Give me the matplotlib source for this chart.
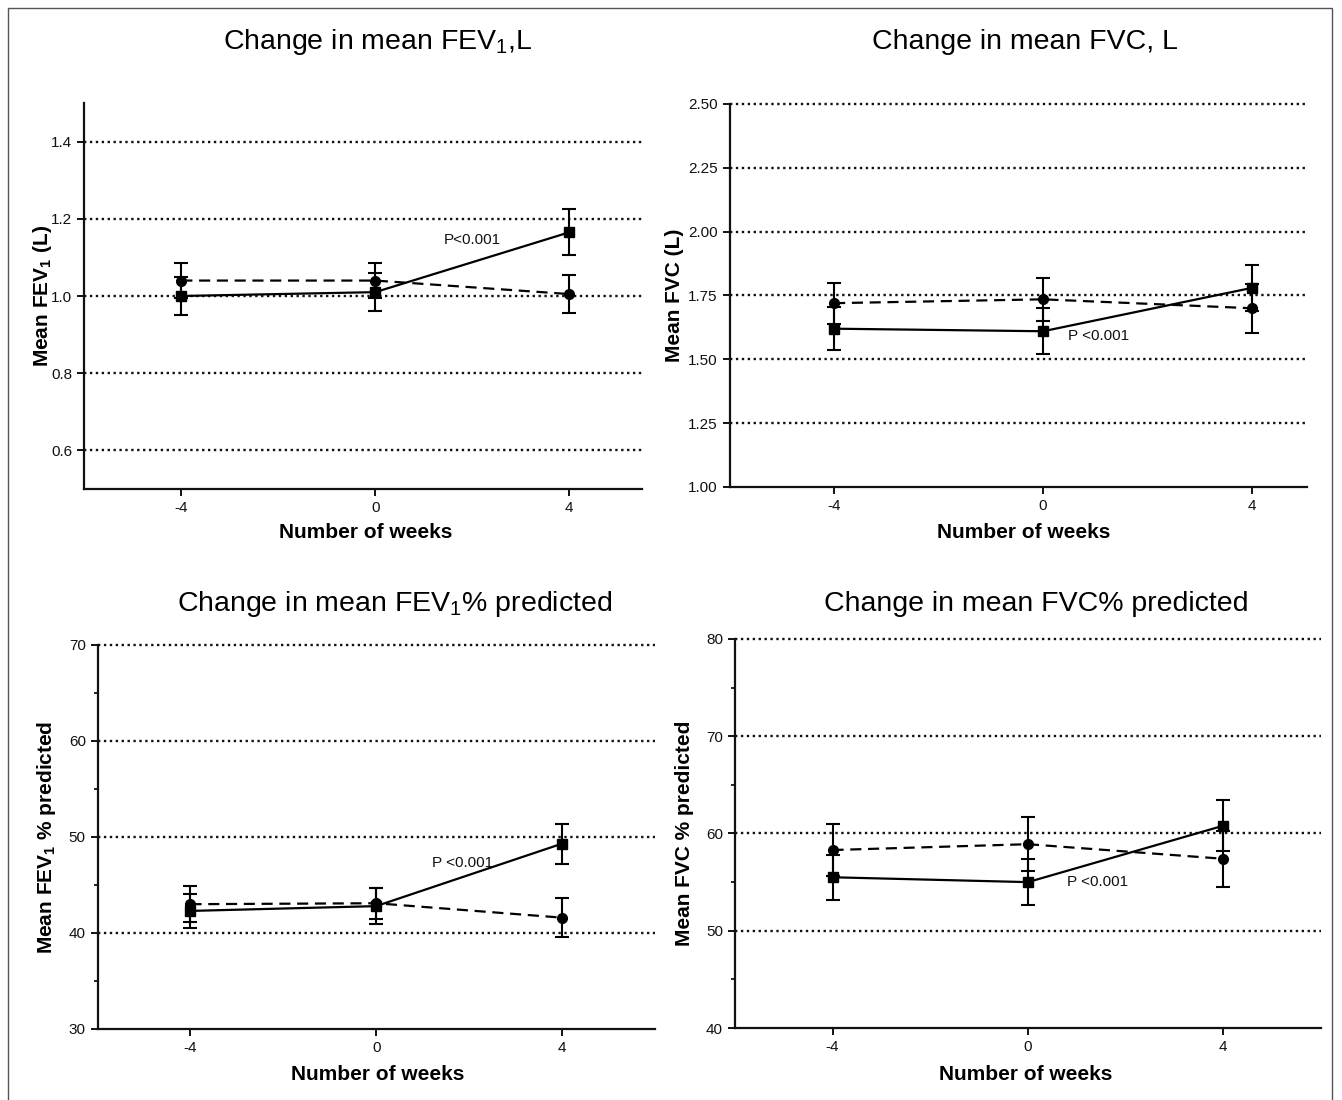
import matplotlib
matplotlib.use("Agg")
import matplotlib.pyplot as plt
from matplotlib import font_manager
from matplotlib.patches import Rectangle
from matplotlib.ticker import MultipleLocator, FixedLocator, FormatStrFormatter

# ---------------- data ----------------
weeks = [-4, 0, 4]

fev1_solid = [1.00, 1.01, 1.165]
fev1_solid_err = [0.05, 0.05, 0.06]
fev1_dashed = [1.04, 1.04, 1.005]
fev1_dashed_err = [0.045, 0.045, 0.05]

fvc_solid = [1.62, 1.61, 1.78]
fvc_solid_err = [0.085, 0.09, 0.09]
fvc_dashed = [1.72, 1.735, 1.70]
fvc_dashed_err = [0.08, 0.085, 0.095]

fev1pp_solid = [42.3, 42.8, 49.3]
fev1pp_solid_err = [1.75, 1.85, 2.1]
fev1pp_dashed = [43.0, 43.1, 41.6]
fev1pp_dashed_err = [1.9, 1.6, 2.0]

fvcpp_solid = [55.5, 55.0, 60.8]
fvcpp_solid_err = [2.3, 2.4, 2.6]
fvcpp_dashed = [58.3, 58.9, 57.4]
fvcpp_dashed_err = [2.7, 2.8, 2.9]

titles = ["Change in mean FEV$_1$,L", "Change in mean FVC, L",
          "Change in mean FEV$_1$% predicted", "Change in mean FVC% predicted"]
ylabels = [r"Mean FEV$_\mathbf{1}$ (L)", "Mean FVC (L)",
           r"Mean FEV$_\mathbf{1}$ % predicted", "Mean FVC % predicted"]
xlabel = "Number of weeks"
ptexts = ["P<0.001", "P <0.001", "P <0.001", "P <0.001"]

# ---------------- fonts ----------------
avail = {f.name for f in font_manager.fontManager.ttflist}
MAIN = "Liberation Sans" if "Liberation Sans" in avail else "DejaVu Sans"
NARROW = "Liberation Sans Narrow" if "Liberation Sans Narrow" in avail else MAIN
plt.rcParams["font.family"] = [MAIN, "DejaVu Sans"]
plt.rcParams["mathtext.fontset"] = "custom"
plt.rcParams["mathtext.rm"] = MAIN
plt.rcParams["mathtext.it"] = MAIN + ":italic"
plt.rcParams["mathtext.bf"] = MAIN + ":bold"

W, H = 1342, 1100
fig = plt.figure(figsize=(W / 100, H / 100), dpi=100)
fig.patch.set_facecolor("white")

# outer frame
fig.patches.append(Rectangle((8 / W, -0.01), (1332 - 8) / W, 1.01 - 8 / H,
                             transform=fig.transFigure, fill=False,
                             edgecolor="#555555", lw=1.0))

panels = [
    dict(pos=(84.3, 103, 642, 489), xlim=(-6, 5.5), ylim=(0.5, 1.5),
         major=[0.6, 0.8, 1.0, 1.2, 1.4], minor=None, fmt="%.1f",
         s=fev1_solid, se=fev1_solid_err, d=fev1_dashed, de=fev1_dashed_err,
         ptxt=(2.0, 1.145), title_xy=(378, 42), xl_xy=(366, 532), yl_x=42),
    dict(pos=(729.6, 104, 1307, 487), xlim=(-6, 5.05), ylim=(1.0, 2.5),
         major=[1.0, 1.25, 1.5, 1.75, 2.0, 2.25, 2.5], minor=None, fmt="%.2f",
         s=fvc_solid, se=fvc_solid_err, d=fvc_dashed, de=fvc_dashed_err,
         ptxt=(1.06, 1.59), title_xy=(1025, 42), xl_xy=(1024, 532), yl_x=674),
    dict(pos=(97.6, 645, 654.7, 1029), xlim=(-6, 6), ylim=(30, 70),
         major=[30, 40, 50, 60, 70], minor=5, fmt="%d",
         s=fev1pp_solid, se=fev1pp_solid_err, d=fev1pp_dashed, de=fev1pp_dashed_err,
         ptxt=(1.86, 47.3), title_xy=(395, 604), xl_xy=(378, 1074), yl_x=47),
    dict(pos=(734.8, 639, 1321, 1028), xlim=(-6, 6), ylim=(40, 80),
         major=[40, 50, 60, 70, 80], minor=5, fmt="%d",
         s=fvcpp_solid, se=fvcpp_solid_err, d=fvcpp_dashed, de=fvcpp_dashed_err,
         ptxt=(1.42, 55.05), title_xy=(1036, 604), xl_xy=(1026, 1074), yl_x=684),
]

for i, p in enumerate(panels):
    x0, y0, x1, y1 = p["pos"]
    ax = fig.add_axes([x0 / W, (H - y1) / H, (x1 - x0) / W, (y1 - y0) / H])
    ax.set_xlim(*p["xlim"])
    ax.set_ylim(*p["ylim"])
    for side in ("top", "right"):
        ax.spines[side].set_visible(False)
    for side in ("left", "bottom"):
        ax.spines[side].set_linewidth(1.6)
        ax.spines[side].set_color("#111111")

    # dotted grid at major ticks (except bottom)
    for yv in p["major"]:
        if yv > p["ylim"][0]:
            ax.axhline(yv, color="#111111", lw=1.7, ls=(0, (1, 1.5)),
                       zorder=1, clip_on=False)

    ax.yaxis.set_major_locator(FixedLocator(p["major"]))
    ax.yaxis.set_major_formatter(FormatStrFormatter(p["fmt"]))
    if p["minor"]:
        ax.yaxis.set_minor_locator(MultipleLocator(p["minor"]))
    ax.set_xticks(weeks)
    ax.set_xticklabels([str(w) for w in weeks])
    ax.tick_params(axis="both", which="major", direction="out", length=5,
                   width=1.4, labelsize=11, colors="#111111")
    ax.tick_params(axis="y", which="minor", direction="out", length=3, width=1.2)
    for lab in ax.get_xticklabels() + ax.get_yticklabels():
        lab.set_fontfamily(NARROW)

    ax.errorbar(weeks, p["d"], yerr=p["de"], color="black", ls=(0, (5, 3)),
                lw=1.6, marker="o", ms=7, capsize=5, capthick=1.5,
                elinewidth=1.5, zorder=3)
    ax.errorbar(weeks, p["s"], yerr=p["se"], color="black", ls="-",
                lw=1.6, marker="s", ms=6.5, capsize=5, capthick=1.5,
                elinewidth=1.5, zorder=4)

    ax.text(p["ptxt"][0], p["ptxt"][1], ptexts[i], ha="center", va="center",
            fontsize=11, family=NARROW, color="#111111", zorder=5)

    tx, ty = p["title_xy"]
    fig.text(tx / W, 1 - ty / H, titles[i], ha="center", va="center",
             fontsize=20.5, color="black")
    lx, ly = p["xl_xy"]
    fig.text(lx / W, 1 - ly / H, xlabel, ha="center", va="center",
             fontsize=15, fontweight="bold", color="black")
    fig.text(p["yl_x"] / W, 1 - ((y0 + y1) / 2) / H, ylabels[i], ha="center",
             va="center", rotation=90, fontsize=15, fontweight="bold", color="black")

fig.savefig("out.png", dpi=100, facecolor="white")
